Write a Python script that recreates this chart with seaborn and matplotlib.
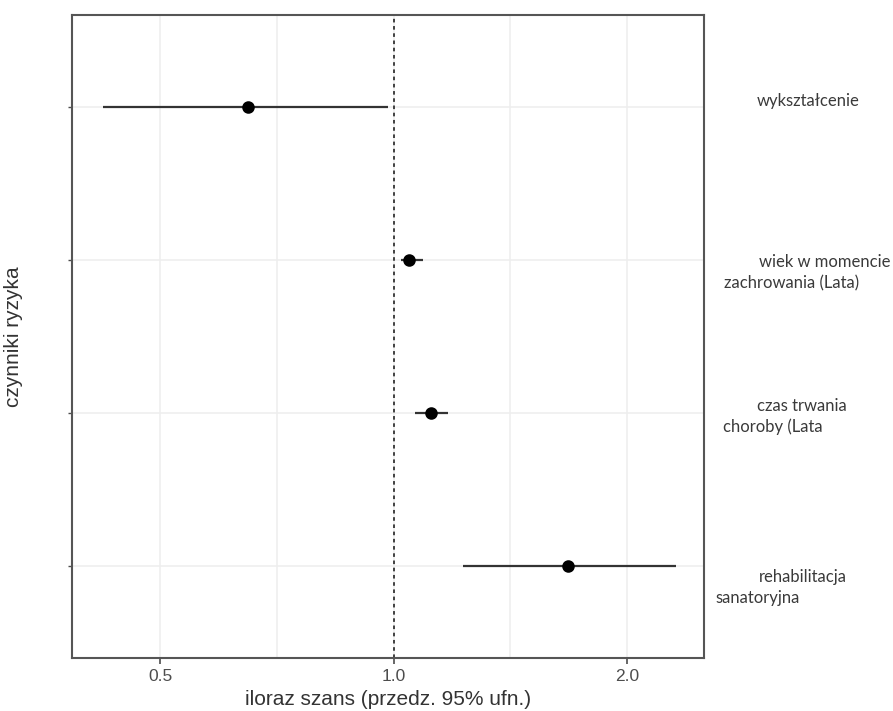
import matplotlib
matplotlib.use("Agg")
import matplotlib.pyplot as plt
import matplotlib.ticker as mticker
import seaborn as sns
import pandas as pd
import numpy as np

# ─── data (odds ratios with 95% CI) ──────────────────────────────────────────
factors = ["wykształcenie", "wiek", "czas trwania", "rehabilitacja"]
odds_ratio = [0.650, 1.048, 1.116, 1.679]
ci_low = [0.422, 1.021, 1.067, 1.230]
ci_high = [0.985, 1.090, 1.177, 2.313]
x_ticks = [0.5, 1.0, 2.0]
x_tick_labels = ["0.5", "1.0", "2.0"]
x_minor = [0.7071, 1.4142]

# labels written to the right of the panel, line by line
side_labels = [
    ["wykształcenie"],
    ["wiek w momencie", "zachrowania (Lata)"],
    ["czas trwania", "choroby (Lata"],
    ["rehabilitacja", "sanatoryjna"],
]
# pixel offsets of each line from (right spine, row)
side_offsets = [
    [(53, 6)],
    [(55, -2), (20, -23)],
    [(53, 7), (19, -14)],
    [(55, -11), (11, -32)],
]

TEXT_C = "#333333"
TICK_C = "#4D4D4D"
GRID_C = "#EEEEEE"
SPINE_C = "#555555"
LINE_C = "#333333"

df = pd.DataFrame({"factor": factors, "or": odds_ratio,
                   "lo": ci_low, "hi": ci_high})

sns.set_theme(style="white")
plt.rcParams["font.family"] = ["Liberation Sans", "DejaVu Sans"]

fig = plt.figure(figsize=(8.93, 7.11), dpi=100)
fig.patch.set_facecolor("white")
ax = fig.add_axes([72 / 893, 1 - 658 / 711, (704 - 72) / 893, (658 - 15) / 711])
ax.set_facecolor("white")

# grid first
for v in x_ticks + x_minor:
    ax.axvline(v, color=GRID_C, linewidth=1.1, zorder=0)
for i in range(len(factors)):
    ax.axhline(i, color=GRID_C, linewidth=1.1, zorder=0)

# confidence intervals
ax.hlines(y=np.arange(len(df)), xmin=df["lo"], xmax=df["hi"],
          color=LINE_C, linewidth=1.6, zorder=2)

# point estimates
sns.pointplot(data=df, x="or", y="factor", order=factors, color="black",
              linestyle="none", markers="o", errorbar=None, ax=ax,
              markersize=7, zorder=3)

ax.axvline(1.0, color=LINE_C, linewidth=1.3, linestyle=(0, (2.0, 2.0)), zorder=2)

ax.set_xscale("log")
ax.set_xlim(0.385, 2.513)
ax.set_ylim(3.6, -0.6)
ax.xaxis.set_major_locator(mticker.FixedLocator(x_ticks))
ax.xaxis.set_major_formatter(mticker.FixedFormatter(x_tick_labels))
ax.xaxis.set_minor_locator(mticker.NullLocator())
ax.set_yticks(range(len(factors)))
ax.set_yticklabels([])

ax.tick_params(axis="x", colors=TICK_C, labelsize=12.5, length=4, width=1.2,
               pad=4, bottom=True)
ax.tick_params(axis="y", colors=TICK_C, length=3, width=1.0, left=True)
for spine in ax.spines.values():
    spine.set_visible(True)
    spine.set_edgecolor(SPINE_C)
    spine.set_linewidth(1.5)

ax.set_xlabel("iloraz szans (przedz. 95% ufn.)", color=TEXT_C, fontsize=15,
              labelpad=4)
ax.set_ylabel("czynniki ryzyka", color=TEXT_C, fontsize=15, labelpad=22)
ax.yaxis.set_label_coords(-0.078, 0.5)

for i, (lines, offs) in enumerate(zip(side_labels, side_offsets)):
    for txt, (dx, dy) in zip(lines, offs):
        ax.annotate(txt, xy=(1.0, i), xycoords=("axes fraction", "data"),
                    xytext=(dx, dy), textcoords="offset pixels",
                    ha="left", va="center", fontsize=12,
                    family=["Lato", "DejaVu Sans"], color="#3A3A3A",
                    annotation_clip=False)

fig.savefig("out.png", dpi=100, facecolor="white")
